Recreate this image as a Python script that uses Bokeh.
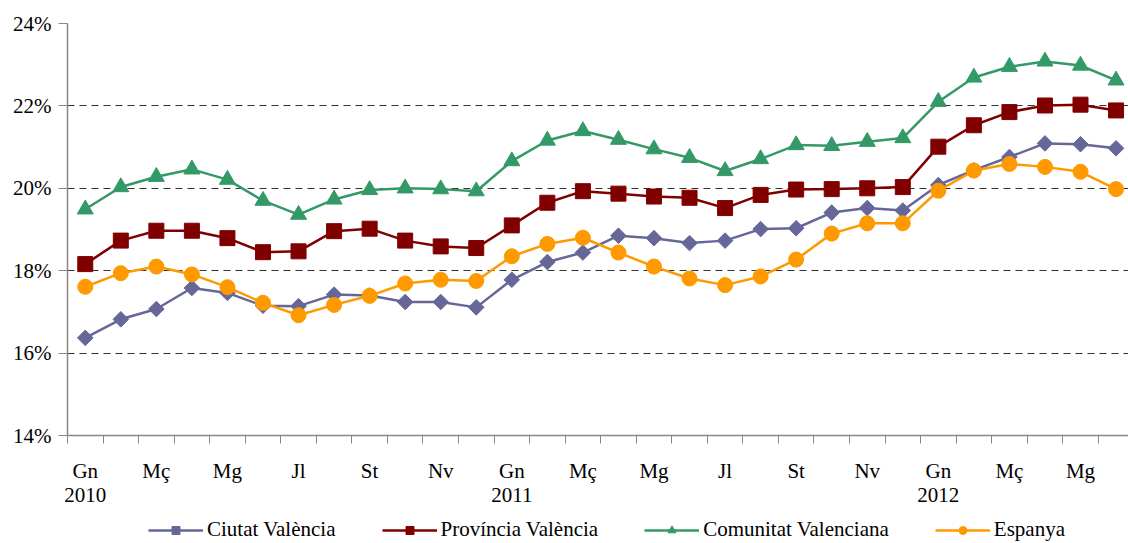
import numpy as np
from bokeh.plotting import figure
from bokeh.layouts import column
from bokeh.models import Range1d, FixedTicker, Legend, LegendItem, LinearAxis
from bokeh.embed import file_html
from bokeh.resources import INLINE

months = ["Gn", "Fb", "Mç", "Ab", "Mg", "Jn", "Jl", "Ag", "St", "Oc", "Nv", "Ds"]
years = ["2010", "2011", "2012"]
n_points = 30

ciutat = [16.37, 16.82, 17.07, 17.58, 17.46, 17.15, 17.14, 17.42, 17.40, 17.24,
          17.24, 17.11, 17.78, 18.21, 18.44, 18.85, 18.79, 18.67, 18.73, 19.01,
          19.03, 19.41, 19.52, 19.46, 20.08, 20.44, 20.76, 21.09, 21.07, 20.97]
provincia = [18.16, 18.73, 18.97, 18.97, 18.79, 18.45, 18.47, 18.96, 19.02, 18.73,
             18.59, 18.55, 19.10, 19.65, 19.93, 19.87, 19.80, 19.77, 19.52, 19.84,
             19.97, 19.98, 20.00, 20.03, 21.01, 21.53, 21.85, 22.01, 22.03, 21.89]
comunitat = [19.49, 20.03, 20.28, 20.46, 20.21, 19.70, 19.36, 19.73, 19.96, 20.00,
             19.98, 19.93, 20.66, 21.16, 21.39, 21.18, 20.95, 20.74, 20.42, 20.71,
             21.05, 21.03, 21.13, 21.22, 22.10, 22.69, 22.95, 23.08, 22.98, 22.62]
espanya = [17.61, 17.94, 18.10, 17.91, 17.60, 17.22, 16.92, 17.17, 17.39, 17.69,
           17.78, 17.75, 18.35, 18.65, 18.80, 18.44, 18.10, 17.81, 17.65, 17.86,
           18.27, 18.90, 19.15, 19.15, 19.94, 20.43, 20.59, 20.52, 20.40, 19.98]

y_ticks = [14, 16, 18, 20, 22, 24]

x = list(range(n_points))

FONT = "Liberation Serif"
FS = "21px"

p = figure(width=1128, height=510, output_backend="svg",
           toolbar_location=None, x_range=Range1d(-0.5, 29.35),
           y_range=Range1d(14, 24), min_border_left=67, min_border_right=0,
           min_border_top=23, min_border_bottom=75)
p.outline_line_color = None
p.background_fill_color = "white"
p.border_fill_color = "white"

# x axis: month labels
month_labels = {i: months[i % 12] for i in range(0, n_points, 2)}
p.xaxis.ticker = FixedTicker(ticks=list(range(0, n_points, 2)),
                             minor_ticks=[i - 0.5 for i in range(n_points + 1)])
p.xaxis.major_label_overrides = month_labels
p.xaxis.major_tick_out = 0
p.xaxis.major_tick_in = 0
p.xaxis.minor_tick_out = 8
p.xaxis.minor_tick_in = 0
p.xaxis.minor_tick_line_color = "#868686"
p.xaxis.axis_line_color = "#868686"
p.xaxis.axis_line_width = 1.5
p.xaxis.major_label_standoff = 15
p.xaxis.major_label_text_font = FONT
p.xaxis.major_label_text_font_size = FS
p.xaxis.major_label_text_color = "black"

# second x axis: years
year_axis = LinearAxis(ticker=FixedTicker(ticks=[0, 12, 24]),
                       major_label_overrides={12 * k: y for k, y in enumerate(years)},
                       axis_line_color=None, major_tick_line_color=None,
                       minor_tick_line_color=None, major_tick_out=0,
                       major_tick_in=0, minor_tick_out=0, minor_tick_in=0,
                       major_label_standoff=2, major_label_text_font=FONT,
                       major_label_text_font_size=FS,
                       major_label_text_color="black")
p.add_layout(year_axis, "below")

# y axis
p.yaxis.ticker = FixedTicker(ticks=y_ticks)
p.yaxis.major_label_overrides = {t: f"{t}%" for t in y_ticks}
p.yaxis.major_tick_out = 9
p.yaxis.major_tick_in = 0
p.yaxis.minor_tick_out = 0
p.yaxis.minor_tick_in = 0
p.yaxis.major_tick_line_color = "#868686"
p.yaxis.axis_line_color = "#868686"
p.yaxis.axis_line_width = 1.5
p.yaxis.major_label_standoff = 7
p.yaxis.major_label_text_font = FONT
p.yaxis.major_label_text_font_size = FS
p.yaxis.major_label_text_color = "black"

p.xgrid.visible = False
p.ygrid.ticker = FixedTicker(ticks=y_ticks[1:])
p.ygrid.grid_line_color = "#333333"
p.ygrid.grid_line_dash = "7 5"
p.ygrid.grid_line_width = 1

series = [
    ("Ciutat València", ciutat, "#666699", "square", 11, np.pi / 4),
    ("Província València", provincia, "#800000", "square", 15, 0),
    ("Comunitat Valenciana", comunitat, "#339966", "triangle", 16, 0),
    ("Espanya", espanya, "#FF9900", "circle", 15, 0),
]

# legend strip (its own renderers lie outside its visible range)
lf = figure(width=1128, height=33, output_backend="svg", toolbar_location=None,
            x_range=Range1d(0, 1), y_range=Range1d(0, 1),
            x_axis_type=None, y_axis_type=None,
            min_border_left=0, min_border_right=0, min_border_top=0,
            min_border_bottom=0)
lf.outline_line_color = None
lf.xgrid.visible = False
lf.ygrid.visible = False
lf.border_fill_color = "white"

items = []
for name, vals, col, mk, sz, ang in series:
    p.line(x, vals, line_color=col, line_width=2.5)
    p.scatter(x, vals, marker=mk, size=sz, angle=ang, fill_color=col,
              line_color=col)
    ll = lf.line(x, vals, line_color=col, line_width=2.5)
    ls = lf.scatter(x, vals, marker=mk, size=sz, angle=ang, fill_color=col,
                    line_color=col)
    items.append(LegendItem(label=name, renderers=[ll, ls]))

legend = Legend(items=items, orientation="horizontal", location=(81, 1),
                label_text_font=FONT, label_text_font_size=FS,
                label_text_color="black", glyph_width=55, glyph_height=20,
                label_standoff=4, spacing=46, padding=0, margin=0,
                border_line_color=None, background_fill_alpha=0)
lf.add_layout(legend, "center")

layout = column(p, lf, spacing=0)
open("out.html", "w").write(file_html(layout, INLINE))
